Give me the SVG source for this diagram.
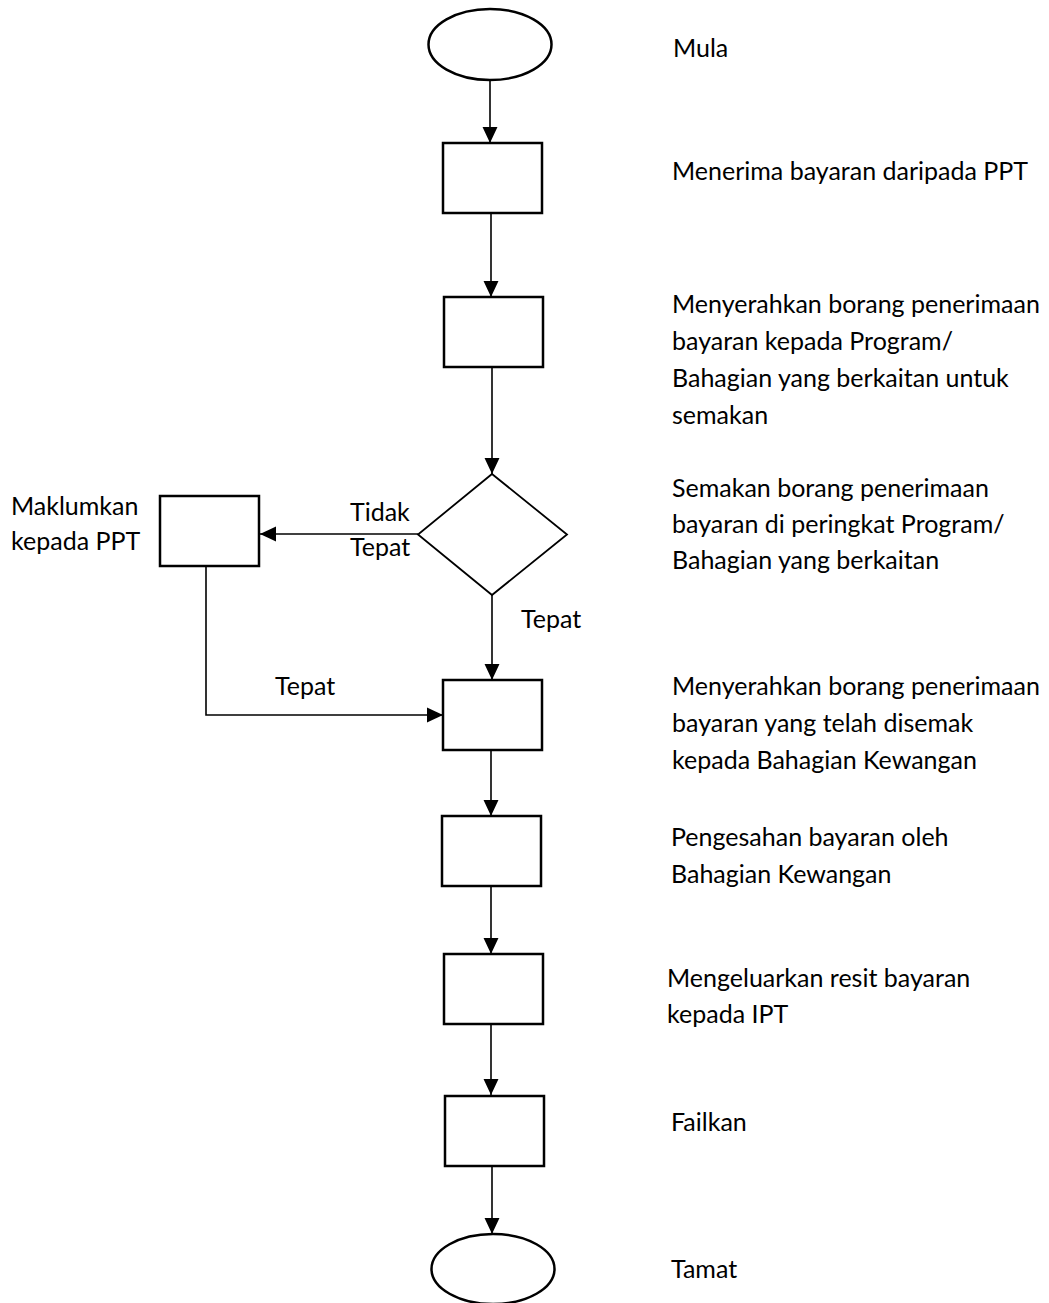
<svg xmlns="http://www.w3.org/2000/svg" width="1049" height="1303" viewBox="0 0 1049 1303">
<style>
.box{fill:#fff;stroke:#000;stroke-width:2.5}
.dia{fill:#fff;stroke:#000;stroke-width:1.8}
.ln{fill:none;stroke:#000;stroke-width:1.6}
text{font-family:Lato,"Open Sans","Liberation Sans",sans-serif;font-size:25px;fill:#000}
</style>
<defs>
<marker id="ah" markerUnits="userSpaceOnUse" markerWidth="16" markerHeight="16" viewBox="0 0 15 14" refX="15" refY="7" orient="auto">
<path d="M0,0 L15,7 L0,14 Z" fill="#000"/>
</marker>
</defs>
<rect width="1049" height="1303" fill="#fff"/>
<g id="connectors">
<line class="ln" x1="490" y1="80" x2="490" y2="143" marker-end="url(#ah)"/>
<line class="ln" x1="491" y1="213" x2="491" y2="297" marker-end="url(#ah)"/>
<line class="ln" x1="492" y1="367" x2="492" y2="474" marker-end="url(#ah)"/>
<line class="ln" x1="418" y1="534" x2="260" y2="534" marker-end="url(#ah)"/>
<line class="ln" x1="492" y1="595" x2="492" y2="680" marker-end="url(#ah)"/>
<polyline class="ln" points="206,567 206,715 443,715" marker-end="url(#ah)"/>
<line class="ln" x1="491" y1="750" x2="491" y2="816" marker-end="url(#ah)"/>
<line class="ln" x1="491" y1="886" x2="491" y2="954" marker-end="url(#ah)"/>
<line class="ln" x1="491" y1="1024" x2="491" y2="1095" marker-end="url(#ah)"/>
<line class="ln" x1="492" y1="1166" x2="492" y2="1234" marker-end="url(#ah)"/>
<text x="350" y="521">Tidak</text>
<text x="350" y="556">Tepat</text>
<text x="521" y="628">Tepat</text>
<text x="275" y="695">Tepat</text>
</g>
<g id="start"><ellipse class="box" cx="490" cy="44.5" rx="61.5" ry="35.5"/><text x="673" y="57">Mula</text></g>
<g id="n1"><rect class="box" x="443" y="143" width="99" height="70"/><text x="672" y="180">Menerima bayaran daripada PPT</text></g>
<g id="n2"><rect class="box" x="444" y="297" width="99" height="70"/>
<text x="672" y="313">Menyerahkan borang penerimaan</text>
<text x="672" y="350">bayaran kepada Program/</text>
<text x="672" y="387">Bahagian yang berkaitan untuk</text>
<text x="672" y="424">semakan</text></g>
<g id="decision"><polygon class="dia" points="492,474 567,534.5 492,595 418,534.5"/>
<text x="672" y="497">Semakan borang penerimaan</text>
<text x="672" y="533">bayaran di peringkat Program/</text>
<text x="672" y="569">Bahagian yang berkaitan</text></g>
<g id="notify"><rect class="box" x="160" y="496" width="99" height="70"/>
<text x="11" y="515">Maklumkan</text>
<text x="11" y="550">kepada PPT</text></g>
<g id="n3"><rect class="box" x="443" y="680" width="99" height="70"/>
<text x="672" y="695">Menyerahkan borang penerimaan</text>
<text x="672" y="732">bayaran yang telah disemak</text>
<text x="672" y="769">kepada Bahagian Kewangan</text></g>
<g id="n4"><rect class="box" x="442" y="816" width="99" height="70"/>
<text x="671" y="846">Pengesahan bayaran oleh</text>
<text x="671" y="883">Bahagian Kewangan</text></g>
<g id="n5"><rect class="box" x="444" y="954" width="99" height="70"/>
<text x="667" y="987">Mengeluarkan resit bayaran</text>
<text x="667" y="1023">kepada IPT</text></g>
<g id="n6"><rect class="box" x="445" y="1096" width="99" height="70"/><text x="671" y="1131">Failkan</text></g>
<g id="end"><ellipse class="box" cx="493" cy="1269" rx="61.5" ry="35"/><text x="671" y="1278">Tamat</text></g>
</svg>
